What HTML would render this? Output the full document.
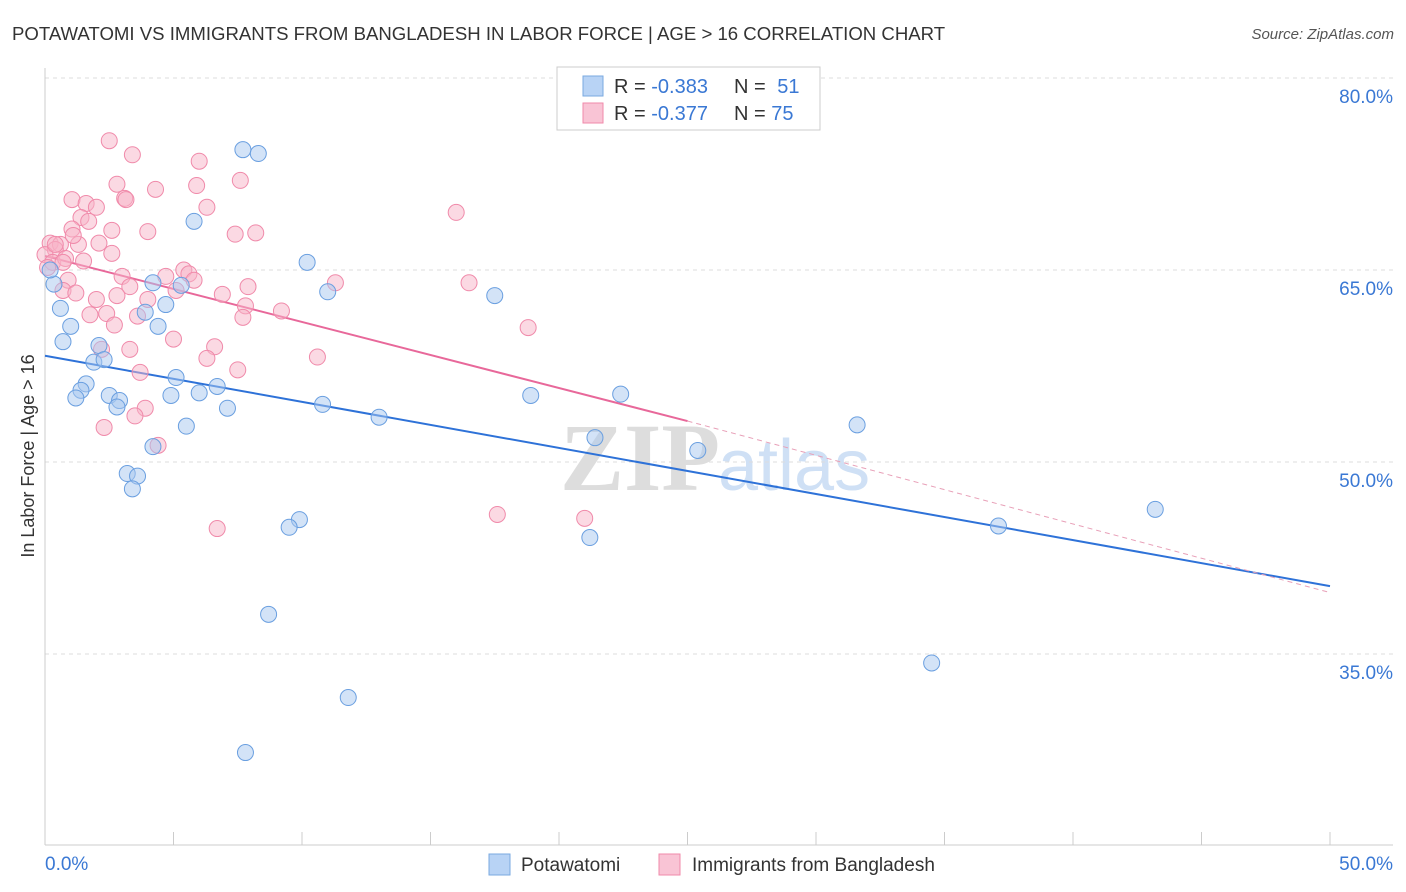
<!DOCTYPE html>
<html><head><meta charset="utf-8"><style>
body{margin:0;background:#fff;font-family:"Liberation Sans",sans-serif;}
svg{display:block}
</style></head><body>
<svg id="chart" width="1406" height="892" font-family="Liberation Sans, sans-serif">
<text x="12" y="40" font-size="18.6" fill="#333">POTAWATOMI VS IMMIGRANTS FROM BANGLADESH IN LABOR FORCE | AGE &gt; 16 CORRELATION CHART</text>
<text x="1394" y="39" font-size="15" fill="#555" font-style="italic" text-anchor="end">Source: ZipAtlas.com</text>
<text x="720" y="490" font-size="96" fill="#ddd" font-weight="bold" text-anchor="end" font-family="Liberation Serif, serif">ZIP</text>
<text x="718" y="490" font-size="72" fill="#cfe0f5">atlas</text>
<text transform="translate(34,456) rotate(-90)" font-size="18" fill="#333" text-anchor="middle">In Labor Force | Age &gt; 16</text>
<g id="grid"></g><g id="ticks"></g><g id="trends"></g><g id="pts"></g>
<g>
<rect x="557" y="67" width="263" height="63" fill="#fff" stroke="#ccc"/>
<rect x="583" y="76" width="20" height="20" fill="#b8d3f5" stroke="#7aaae0"/>
<rect x="583" y="103" width="20" height="20" fill="#f9c4d5" stroke="#f08aaa"/>
<text x="614" y="93" font-size="20" fill="#333">R = <tspan fill="#3a78d4">-0.383</tspan></text>
<text x="734" y="93" font-size="20" fill="#333">N = <tspan dx="6" fill="#3a78d4">51</tspan></text>
<text x="614" y="120" font-size="20" fill="#333">R = <tspan fill="#3a78d4">-0.377</tspan></text>
<text x="734" y="120" font-size="20" fill="#333">N = <tspan fill="#3a78d4">75</tspan></text>
</g>
<g>
<rect x="489" y="854" width="21" height="21" fill="#b8d3f5" stroke="#7aaae0"/>
<text x="521" y="871" font-size="19" fill="#333">Potawatomi</text>
<rect x="659" y="854" width="21" height="21" fill="#f9c4d5" stroke="#f08aaa"/>
<text x="692" y="871" font-size="19" fill="#333">Immigrants from Bangladesh</text>
</g>
</svg>
<script>
const yTicks=[80,65,50,35];
const yTickLabels=["80.0%","65.0%","50.0%","35.0%"];
const xTickLabels=["0.0%","50.0%"];
const blueX=[7.7,8.3,5.8,10.2,11.0,17.5,4.2,5.3,4.7,0.35,0.6,1.0,0.7,4.4,3.9,2.1,1.9,2.3,1.6,1.4,1.2,2.5,2.9,2.8,5.1,4.9,6.0,6.7,7.1,5.5,10.8,13.0,18.9,22.4,21.4,25.4,31.6,4.2,3.2,3.6,3.4,9.9,9.5,21.2,37.1,43.2,8.7,34.5,11.8,7.8,0.2];
const blueY=[74.4,74.1,68.8,65.6,63.3,63.0,64.0,63.8,62.3,63.9,62.0,60.6,59.4,60.6,61.7,59.1,57.8,58.0,56.1,55.6,55.0,55.2,54.8,54.3,56.6,55.2,55.4,55.9,54.2,52.8,54.5,53.5,55.2,55.3,51.9,50.9,52.9,51.2,49.1,48.9,47.9,45.5,44.9,44.1,45.0,46.3,38.1,34.3,31.6,27.3,65.0];
const pinkX=[2.5,3.4,6.0,7.6,2.8,4.3,5.9,3.1,3.15,1.05,1.6,2.0,6.3,1.4,1.7,1.05,4.0,7.4,8.2,16.0,0.2,0.6,0.4,0.0,0.3,0.8,1.3,2.1,2.6,2.6,1.5,0.9,0.7,1.2,2.0,1.75,2.4,2.7,3.0,3.3,2.8,4.0,5.4,5.6,4.7,5.8,5.1,6.9,7.9,7.8,7.7,9.2,11.3,16.5,18.8,3.6,5.0,6.6,6.3,3.3,2.2,10.6,7.5,3.7,3.9,3.5,2.3,4.4,6.7,17.6,21.0,1.1,0.4,0.1,0.7];
const pinkY=[75.1,74.0,73.5,72.0,71.7,71.3,71.6,70.6,70.5,70.5,70.2,69.9,69.9,69.1,68.8,68.2,68.0,67.8,67.9,69.5,67.1,67.0,66.6,66.2,65.6,65.9,67.0,67.1,68.1,66.3,65.7,64.2,63.4,63.2,62.7,61.5,61.6,60.7,64.5,63.7,63.0,62.7,65.0,64.7,64.5,64.2,63.4,63.1,63.7,62.2,61.3,61.8,64.0,64.0,60.5,61.4,59.6,59.0,58.1,58.8,58.8,58.2,57.2,57.0,54.2,53.6,52.7,51.3,44.8,45.9,45.6,67.7,67.0,65.2,65.6];
const blueTrend=[[0,58.3],[50,40.3]];
const pinkTrendSolid=[[0,66.1],[25,53.2]];
const pinkTrendDash=[[25,53.2],[50,39.8]];
const NS='http://www.w3.org/2000/svg';
const X=v=>45+v*25.7, Y=v=>78+(80-v)*12.8;
function mk(tag,attrs,parent){const e=document.createElementNS(NS,tag);for(const k in attrs)e.setAttribute(k,attrs[k]);document.getElementById(parent).appendChild(e);return e;}
yTicks.forEach((t,i)=>{
 const l=mk('line',{x1:45,x2:1393,y1:Y(t),y2:Y(t),stroke:'#ddd','stroke-dasharray':'4,4'},'grid');
 
 
 const tx=mk('text',{x:1393,y:Y(t)+25,'font-size':19,fill:'#3a78d4','text-anchor':'end'},'grid');
 tx.textContent=yTickLabels[i];
 
 
});
const ax=mk('line',{x1:45,x2:1393,y1:845,y2:845,stroke:'#ccc'},'ticks');


const ay=mk('line',{x1:45,x2:45,y1:68,y2:845,stroke:'#ccc'},'ticks');


for(let i=0;i<=10;i++){const t=mk('line',{x1:X(i*5),x2:X(i*5),y1:832,y2:845,stroke:'#ccc'},'ticks');
 
 }
[[0,'start'],[50,'end']].forEach((p,i)=>{const t=mk('text',{x:p[0]==0?45:1393,y:870,'font-size':19,fill:'#3a78d4','text-anchor':p[1]},'ticks');t.textContent=xTickLabels[i];
 
 });
function pts(xs,ys,fill,stroke,name){xs.forEach((x,i)=>{const c=mk('circle',{cx:X(x),cy:Y(ys[i]),r:8,fill:fill,'fill-opacity':0.5,stroke:stroke,'stroke-width':1},'pts');
 
 });}
pts(pinkX,pinkY,'#f7b3c8','#f08aaa','point-bangladesh');
pts(blueX,blueY,'#a8c8f0','#6a9fe0','point-potawatomi');
function line(d,stroke,w,dash,name){const l=mk('line',{x1:X(d[0][0]),y1:Y(d[0][1]),x2:X(d[1][0]),y2:Y(d[1][1]),stroke:stroke,'stroke-width':w},'trends');if(dash)l.setAttribute('stroke-dasharray',dash);
 
 }
line(blueTrend,'#2e72d8',2,null,'trend-potawatomi');
line(pinkTrendSolid,'#e8689a',2,null,'trend-bangladesh');
line(pinkTrendDash,'#e8a0b8',1,'5,4','trend-bangladesh-extrapolated');
</script>
</body></html>
